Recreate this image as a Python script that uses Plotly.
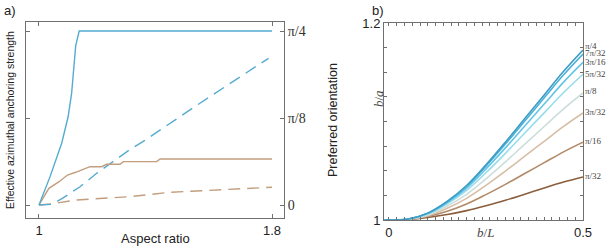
import plotly.graph_objects as go
import math

# ---------- Panel a data ----------
blue_solid_x = [1.0, 1.038, 1.078, 1.100, 1.112, 1.121, 1.126, 1.138, 1.8]
blue_solid_f = [0.0, 0.163, 0.355, 0.507, 0.641, 0.815, 0.914, 1.0, 1.0]   # fraction of pi/4
blue_dash_x = [1.0, 1.045, 1.08, 1.141, 1.198, 1.255, 1.313, 1.364, 1.55, 1.788]
blue_dash_f = [0.0, 0.004, 0.038, 0.105, 0.182, 0.249, 0.320, 0.372, 0.582, 0.843]
brown_solid_x = [1.0, 1.034, 1.069, 1.098, 1.126, 1.155, 1.175, 1.215, 1.232, 1.278, 1.29, 1.404, 1.416, 1.8]
brown_solid_f = [0.0, 0.096, 0.134, 0.172, 0.188, 0.205, 0.220, 0.220, 0.234, 0.234, 0.249, 0.249, 0.264, 0.264]
brown_dash_x = [1.0, 1.05, 1.13, 1.313, 1.45, 1.8]
brown_dash_f = [0.0, 0.008, 0.029, 0.048, 0.073, 0.102]

a_tickvals = [0, math.pi / 8, math.pi / 4]
a_ticktext = ["0", "π/8", "π/4"]
a_xtickvals = [1, 1.8]
a_xticktext = ["1", "1.8"]

# ---------- Panel b data ----------
b_x = [-0.012, 0.0, 0.05, 0.1, 0.15, 0.2, 0.25, 0.3, 0.35, 0.4, 0.45, 0.5]
b_labels = ["π/4", "7π/32", "3π/16", "5π/32", "π/8", "3π/32", "π/16", "π/32"]
b_series = [
    [1.0, 1.0, 1.001, 1.007, 1.019, 1.035, 1.056, 1.079, 1.103, 1.127, 1.151, 1.1726],
    [1.0, 1.0, 1.001, 1.007, 1.0185, 1.034, 1.0547, 1.0771, 1.1005, 1.124, 1.1474, 1.1685],
    [1.0, 1.0, 1.001, 1.0065, 1.0176, 1.0324, 1.0519, 1.0732, 1.0955, 1.1177, 1.140, 1.160],
    [1.0, 1.0, 1.001, 1.006, 1.0163, 1.030, 1.048, 1.0677, 1.0883, 1.1088, 1.1294, 1.148],
    [1.0, 1.0, 1.0008, 1.0052, 1.0142, 1.0261, 1.0418, 1.059, 1.077, 1.0949, 1.1128, 1.129],
    [1.0, 1.0, 1.0007, 1.0044, 1.012, 1.022, 1.0352, 1.0497, 1.0648, 1.0799, 1.095, 1.1086],
    [1.0, 1.0, 1.0006, 1.0035, 1.0088, 1.0162, 1.0258, 1.0362, 1.0472, 1.0582, 1.0692, 1.079],
    [1.0, 1.0, 1.0005, 1.0025, 1.0055, 1.0095, 1.0145, 1.0200, 1.0262, 1.0325, 1.0385, 1.0437],
]
b_colors = ["#3e9cc6", "#4bb1d8", "#62c5e5", "#97dcec", "#cbdedc", "#d6bea6", "#b38a68", "#8a5e3c"]
b_label_shift = [4, 1, 0, 0, 2, 1, 1, 1]
b_ytickvals = [1 + 0.025 * i for i in range(9)]
b_yticktext = ["1"] + [""] * 7 + ["1.2"]
b_xtickvals = [0.02 * i for i in range(26)]
b_xticktext = ["0"] + [""] * 24 + ["0.5"]

BLUE = "#56abd0"
BROWN = "#c29d7e"
AXC = "#707070"
SANS = "Liberation Sans, Arial, sans-serif"
SERIF = "Liberation Serif, Times New Roman, serif"

fig = go.Figure()
q = math.pi / 4

def add_a(x, f, color, dash):
    fig.add_trace(go.Scatter(x=x, y=[v * q for v in f], mode="lines",
                             line=dict(color=color, width=1.4, dash=dash),
                             xaxis="x", yaxis="y", showlegend=False, hoverinfo="skip"))

add_a(brown_dash_x, brown_dash_f, BROWN, "12px,7px")
add_a(blue_dash_x, blue_dash_f, BLUE, "12px,7px")
add_a(brown_solid_x, brown_solid_f, BROWN, "solid")
add_a(blue_solid_x, blue_solid_f, BLUE, "solid")

for ys, c in zip(reversed(b_series), reversed(b_colors)):
    fig.add_trace(go.Scatter(x=b_x, y=ys, mode="lines", line=dict(color=c, width=1.6, shape="spline"),
                             xaxis="x2", yaxis="y2", showlegend=False, hoverinfo="skip"))

annotations = []
for lab, ys, sh in zip(b_labels, b_series, b_label_shift):
    annotations.append(dict(x=b_x[-1], y=ys[-1], xref="x2", yref="y2", text=lab, showarrow=False,
                            xanchor="left", yanchor="middle", xshift=0, yshift=sh,
                            font=dict(family=SERIF, size=9, color="#444")))

annotations += [
    dict(x=0.003, y=0.995, xref="paper", yref="paper", text="a)", showarrow=False,
         xanchor="left", yanchor="top", font=dict(family=SANS, size=13, color="#222")),
    dict(x=0.604, y=0.995, xref="paper", yref="paper", text="b)", showarrow=False,
         xanchor="left", yanchor="top", font=dict(family=SANS, size=13, color="#222")),
    dict(x=10 / 613, y=0.52, xref="paper", yref="paper", text="Effective azimuthal anchoring strength",
         showarrow=False, textangle=-90, xanchor="center", yanchor="middle",
         font=dict(family=SANS, size=10.5, color="#222")),
    dict(x=333 / 613, y=0.52, xref="paper", yref="paper", text="Preferred orientation",
         showarrow=False, textangle=-90, xanchor="center", yanchor="middle",
         font=dict(family=SANS, size=12.5, color="#222")),
    dict(x=155 / 613, y=12 / 250, xref="paper", yref="paper", text="Aspect ratio",
         showarrow=False, xanchor="center", yanchor="middle",
         font=dict(family=SANS, size=13, color="#222")),
    dict(x=485 / 613, y=17 / 250, xref="paper", yref="paper", text="<i>b</i>/<i>L</i>",
         showarrow=False, xanchor="center", yanchor="middle",
         font=dict(family=SERIF, size=13, color="#444")),
    dict(x=378 / 613, y=(250 - 98) / 250, xref="paper", yref="paper", text="<i>b</i>/<i>a</i>",
         showarrow=False, textangle=-90, xanchor="center", yanchor="middle",
         font=dict(family=SERIF, size=13, color="#444")),
]

common = dict(showline=True, linecolor=AXC, linewidth=1, mirror="ticks", showgrid=False,
              zeroline=False, automargin=False, ticks="inside", tickcolor=AXC)

fig.update_layout(
    width=613, height=250, margin=dict(l=0, r=0, t=0, b=0, autoexpand=False),
    paper_bgcolor="white", plot_bgcolor="white",
    xaxis=dict(domain=[26 / 613, 284 / 613], range=[0.9554, 1.8412], tickvals=a_xtickvals,
               ticktext=a_xticktext, ticklen=4, tickfont=dict(family=SANS, size=13, color="#222"),
               anchor="y", **common),
    yaxis=dict(domain=[32 / 250, 228 / 250], range=[-0.0587, 0.826], tickvals=a_tickvals,
               ticktext=a_ticktext, side="right", ticklen=4,
               tickfont=dict(family=SERIF, size=14, color="#333"), anchor="x", **common),
    xaxis2=dict(domain=[384 / 613, 583 / 613], range=[-0.0128, 0.5], tickvals=b_xtickvals,
                ticktext=b_xticktext, ticklen=3, tickfont=dict(family=SANS, size=13, color="#222"),
                anchor="y2", **common),
    yaxis2=dict(domain=[30 / 250, 227 / 250], range=[1.0, 1.2], tickvals=b_ytickvals,
                ticktext=b_yticktext, ticklen=3, tickfont=dict(family=SANS, size=13, color="#222"),
                anchor="x2", **common),
    annotations=annotations,
)

fig.write_html("out.html", config={"displayModeBar": False},
               post_script="document.body.style.margin='0';document.body.style.padding='0';"
                           "document.documentElement.style.overflow='hidden';")
